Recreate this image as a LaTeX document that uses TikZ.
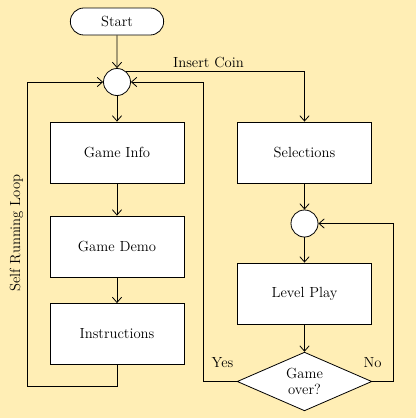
\documentclass[tikz,border=0pt]{standalone}
\usepackage{tikz}
\usetikzlibrary{arrows.meta,positioning,shapes.geometric,shapes.misc}
\definecolor{paper}{RGB}{255,238,181}

\begin{document}
\begin{tikzpicture}[
    x=0.75pt, y=-0.75pt,
    line width=0.6pt,
    every node/.style={font=\fontsize{11}{13}\selectfont},
    box/.style={draw, fill=white, minimum width=100.5pt, minimum height=45.75pt, inner sep=0pt},
    junction/.style={draw, fill=white, circle, minimum size=20.25pt, inner sep=0pt},
    startnode/.style={draw, fill=white, rounded rectangle, minimum width=70pt, minimum height=20.25pt, inner sep=0pt},
    decision/.style={draw, fill=white, diamond, aspect=2.3, minimum width=101pt, minimum height=44pt, inner sep=0pt, align=center, font=\fontsize{11}{12}\selectfont},
    flow/.style={-{Straight Barb[length=4pt,width=7pt]}}
]
\fill[paper] (0,0) rectangle (416,418);
\useasboundingbox (0,0) rectangle (416,418);

% left column
\node[startnode] (start) at (117,21.5) {Start};
\node[junction] (j1) at (117,82) {};
\node[box] (info) at (117,152.5) {Game Info};
\node[box] (demo) at (117,246.5) {Game Demo};
\node[box] (instr) at (117,334) {Instructions};

% right column
\node[box] (sel) at (304.5,152.5) {Selections};
\node[junction] (j2) at (304.5,223.5) {};
\node[box] (play) at (304.5,293.5) {Level Play};
\node[decision] (over) at (304.5,381.5) {Game\\over?};

% labels
\node (coin) at (208.5,62) {Insert Coin};
\node (yes) at (222.5,363) {Yes};
\node (no) at (372.5,363) {No};
\node[rotate=90] (loop) at (16.5,233) {Self Running Loop};

% corners
\coordinate (selfbot) at (27,386);
\coordinate (yesturn) at (203,381.5);
\coordinate (noturn) at (393,381.5);

\draw[flow] (start) -- (j1);
\draw[flow] (j1) -- (info);
\draw[flow] (info) -- (demo);
\draw[flow] (demo) -- (instr);
\draw[flow] (instr.south) |- (selfbot) |- (j1.west);
\draw[flow] (j1.50) -| (sel.north);
\draw[flow] (sel) -- (j2);
\draw[flow] (j2) -- (play);
\draw[flow] (play) -- (over);
\draw[flow] (over.west) -- (yesturn) |- (j1.east);
\draw[flow] (over.east) -- (noturn) |- (j2.east);
\end{tikzpicture}
\end{document}
